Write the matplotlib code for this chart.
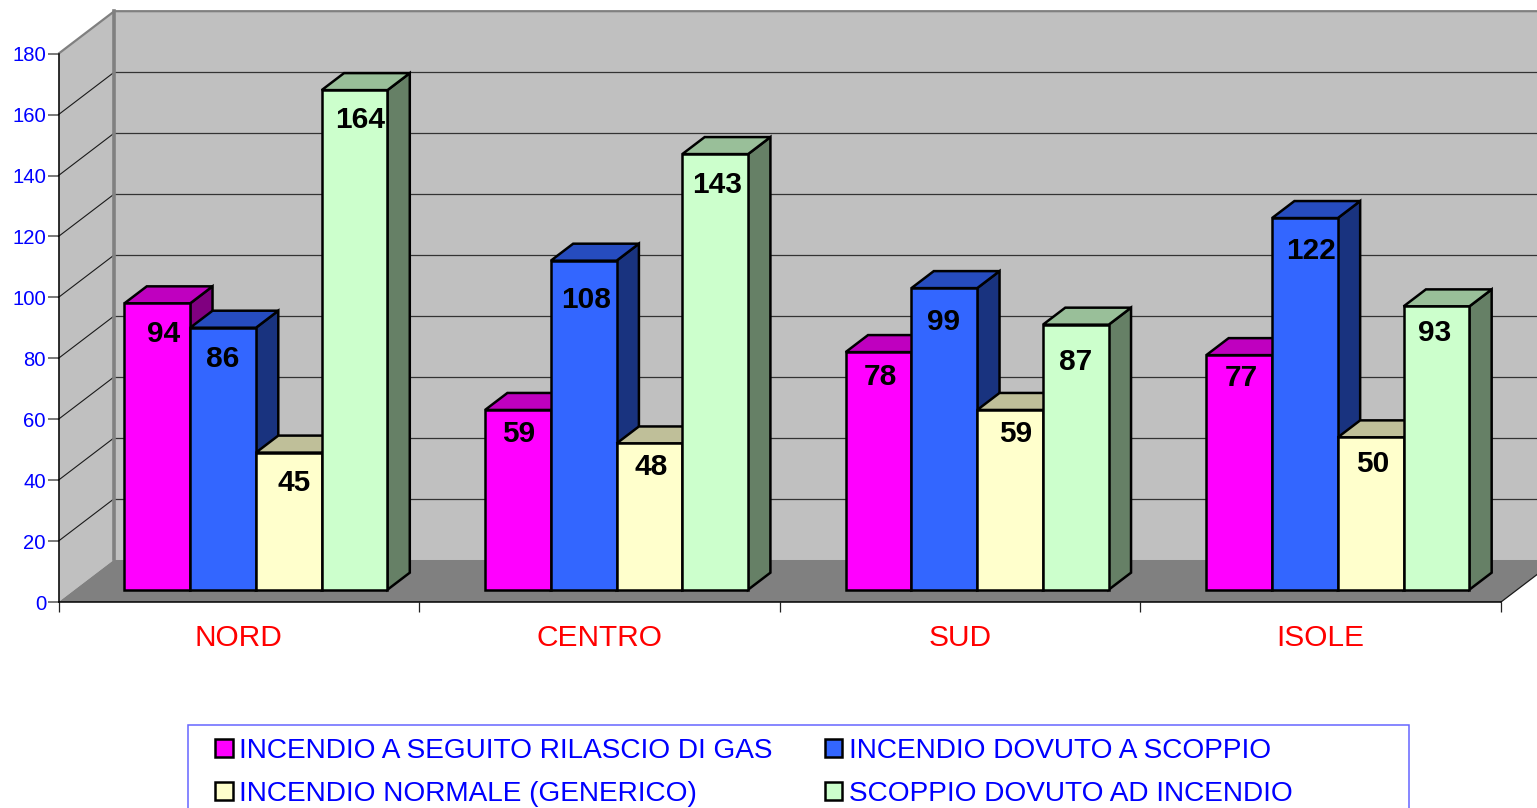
import matplotlib
matplotlib.use("Agg")
import matplotlib.pyplot as plt
from matplotlib.patches import Polygon, Patch, Rectangle

plt.rcParams["font.family"] = ["Liberation Sans", "DejaVu Sans"]

# data
regions = ["NORD", "CENTRO", "SUD", "ISOLE"]
gas = [94, 59, 78, 77]
scoppio = [86, 108, 99, 122]
normale = [45, 48, 59, 50]
incendio = [164, 143, 87, 93]

series_names = ["INCENDIO A SEGUITO RILASCIO DI GAS", "INCENDIO DOVUTO A SCOPPIO",
                "INCENDIO NORMALE (GENERICO)", "SCOPPIO DOVUTO AD INCENDIO"]
series_values = [gas, scoppio, normale, incendio]

# front, top, side colours of each series
front_colors = ["#FF00FF", "#3366FF", "#FFFFCC", "#CCFFCC"]
top_colors = ["#BF00BF", "#264CBF", "#BFBF99", "#99BF99"]
side_colors = ["#800080", "#19337F", "#808066", "#668066"]

# hand placed data labels, pixels from the bar top centre (series, then region)
label_dx = [[6, 1, 2, 2], [0, 2, -1, 6], [5, 2, 6, 2], [6, 2, 0, -2]]
label_dy = [[31, 24, 25, 23], [31, 39, 34, 33], [30, 24, 24, 27], [30, 31, 37, 27]]

W, H = 1537, 808
fig = plt.figure(figsize=(W / 100, H / 100), dpi=100, facecolor="white")
ax = fig.add_axes([58.5 / W, (H - 602) / H, 1442.5 / W, 548.3 / H])
ax.set_xlim(0, 4)
ax.set_ylim(0, 180)
ax.patch.set_visible(False)

# fake 3d: how far the back wall is shifted from the front plane
DX = 55.8 / 360.6
DY = 42.5 / 3.046
BAR_W = 65.75 / 360.6
BAR_X0 = 0.138
D_FRONT, D_BACK = 0.29, 0.69
XR = 4 + DX


def flat(pts, **kw):
    ax.add_patch(Polygon(pts, closed=True, clip_on=False, **kw))


def pt(x, y, d):
    return (x + d * DX, y + d * DY)


# walls and floor
flat([pt(0, 0, 1), pt(4, 0, 1), pt(4, 180, 1), pt(0, 180, 1)], fc="#C0C0C0", ec="none", zorder=1)
flat([pt(0, 0, 0), pt(0, 0, 1), pt(0, 180, 1), pt(0, 180, 0)], fc="#C0C0C0", ec="none", zorder=1)
flat([pt(0, 0, 0), pt(0, 0, 1), pt(4, 0, 1), pt(4, 0, 0)], fc="#808080", ec="none", zorder=1.5)

# gridlines on the walls
for v in range(20, 180, 20):
    ax.plot([0, DX], [v, v + DY], color="#1a1a1a", lw=0.8, clip_on=False, zorder=2)
    ax.plot([DX, XR], [v + DY, v + DY], color="#333333", lw=0.9, clip_on=False, zorder=2)
ax.plot([DX, DX], [DY, 180 + DY], color="#808080", lw=2.6, clip_on=False, zorder=2.2)
ax.plot([0, DX, XR], [180, 180 + DY, 180 + DY], color="#808080", lw=1.6, clip_on=False, zorder=2.2)
ax.plot([4, XR], [0, DY], color="#1a1a1a", lw=0.9, clip_on=False, zorder=2.2)

# bars
z = 3
for r in range(len(regions)):
    for s, vals in enumerate(series_values):
        v = vals[r]
        x0 = r + BAR_X0 + s * BAR_W
        x1 = x0 + BAR_W
        edge = dict(ec="black", lw=1.8, joinstyle="miter", zorder=z)
        flat([pt(x1, 0, D_FRONT), pt(x1, 0, D_BACK), pt(x1, v, D_BACK), pt(x1, v, D_FRONT)],
             fc=side_colors[s], **edge)
        flat([pt(x0, v, D_FRONT), pt(x1, v, D_FRONT), pt(x1, v, D_BACK), pt(x0, v, D_BACK)],
             fc=top_colors[s], **edge)
        flat([pt(x0, 0, D_FRONT), pt(x1, 0, D_FRONT), pt(x1, v, D_FRONT), pt(x0, v, D_FRONT)],
             fc=front_colors[s], **edge)
        z += 0.1

# data labels go above all the bars
for r in range(len(regions)):
    for s, vals in enumerate(series_values):
        x0 = r + BAR_X0 + s * BAR_W
        ax.annotate(str(vals[r]), xy=pt(x0 + BAR_W / 2, vals[r], D_FRONT),
                    xytext=(label_dx[s][r] * 0.72, -label_dy[s][r] * 0.72), textcoords="offset points",
                    ha="center", va="center", fontsize=21.5, fontweight="bold", color="black", zorder=20)

# axes
for name in ["top", "right"]:
    ax.spines[name].set_visible(False)
for name in ["left", "bottom"]:
    ax.spines[name].set_color("black")
    ax.spines[name].set_linewidth(1.1)
    ax.spines[name].set_zorder(10)
ax.set_yticks(range(0, 181, 20))
ax.tick_params(axis="y", length=8, width=1.1, color="#555555", labelcolor="#0000FF", labelsize=14.6, pad=1)
ax.set_xticks(range(5))
ax.set_xticklabels([])
ax.tick_params(axis="x", which="major", length=7.2, width=0.9, color="#222222")
ax.set_xticks([i + 0.5 for i in range(4)], minor=True)
ax.set_xticklabels(regions, minor=True, color="#FF0000", fontsize=21.5)
ax.tick_params(axis="x", which="minor", length=0, pad=16)

# legend, its box runs off the bottom of the picture
fig.add_artist(Rectangle((188 / W, -0.02), (1409 - 188) / W, (H - 725) / H + 0.02, transform=fig.transFigure,
                         fc="white", ec="#6666FF", lw=1.1))
# legend fills by column, the reference reads by row
order = [0, 2, 1, 3]
handles = [Patch(fc=front_colors[i], ec="black", lw=1.8) for i in order]
fig.legend(handles, [series_names[i] for i in order], loc="upper left", bbox_to_anchor=(215 / W, (H - 738) / H),
           ncol=2, frameon=False, borderpad=0, borderaxespad=0, fontsize=20.2, labelcolor="#0000FF",
           handlelength=0.63, handleheight=0.63, handletextpad=0.24, columnspacing=1.85, labelspacing=0.6)

fig.savefig("out.png", dpi=100)
